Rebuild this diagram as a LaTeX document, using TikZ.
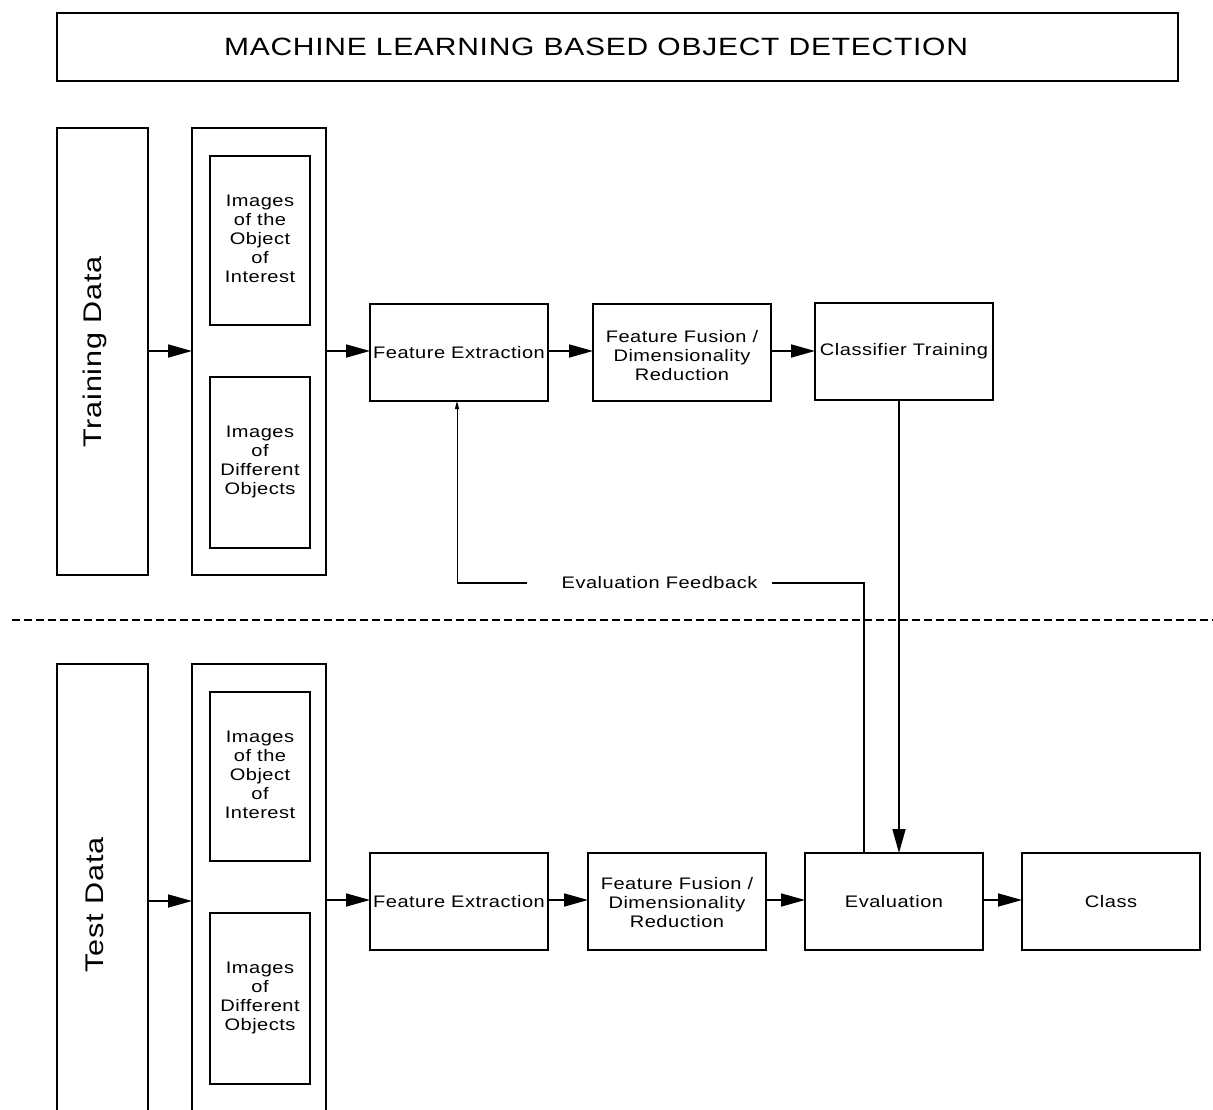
\documentclass[tikz,border=0pt]{standalone}
\usepackage{fontspec}
\setmainfont{Liberation Sans}[LetterSpace=3,FakeStretch=1.2]
\usetikzlibrary{arrows.meta}
\begin{document}
\begin{tikzpicture}[x=1pt,y=-1pt,
  box/.style={draw,line width=1.4pt,inner sep=0pt,outer sep=0pt,align=center,font=\fontsize{16.7}{19}\selectfont},
  procbox/.style={box,minimum width=178pt,minimum height=97pt},
  sidebox/.style={box,minimum width=91pt},
  imgbox/.style={box,minimum width=100pt},
  arr/.style={line width=1.7pt,-{Triangle[length=24pt,width=13pt]}},
  thin arr/.style={line width=1pt,-{Triangle[length=8pt,width=4pt]}},
  fb/.style={line width=1.7pt}]
\useasboundingbox (0,0) rectangle (1213,1109);
% title
\node[box,minimum width=1121pt,minimum height=68pt] (title) at (617.5,47) {};
\node[font=\fontsize{25}{28}\selectfont] (titletext) at (596,47) {MACHINE LEARNING BASED OBJECT DETECTION};
% ---------- training
\node[sidebox,minimum height=447pt] (train) at (102.5,351.5) {};
\node[rotate=90,font=\fontsize{25.5}{28}\selectfont] (trainlbl) at (95,352) {Training Data};
\node[box,minimum width=134pt,minimum height=447pt] (tgroup) at (259,351.5) {};
\node[imgbox,minimum height=169pt] (timg1) at (260,240.5) {};
\node[align=center,font=\fontsize{16.7}{19}\selectfont] (timg1t) at (260,238.5) {Images\\of the\\Object\\of\\Interest};
\node[imgbox,minimum height=171pt] (timg2) at (260,462.5) {};
\node[align=center,font=\fontsize{16.7}{19}\selectfont] (timg2t) at (260,461.5) {Images\\of\\Different\\Objects};
\node[procbox] (tfe) at (459,352.5) {Feature Extraction};
\node[procbox] (tff) at (682,352.5) {};
\node[align=center,font=\fontsize{16.7}{19}\selectfont] (tfft) at (682,355.5) {Feature Fusion /\\Dimensionality\\Reduction};
\node[procbox] (tct) at (904,351.5) {Classifier Training};
\draw[arr] (train.east |- 0,351) -- (tgroup.west |- 0,351);
\draw[arr] (tgroup.east |- 0,351) -- (tfe.west |- 0,351);
\draw[arr] (tfe.east |- 0,351) -- (tff.west |- 0,351);
\draw[arr] (tff.east |- 0,351) -- (tct.west |- 0,351);
% separator
\coordinate (sepL) at (12,620);
\coordinate (sepR) at (1213,620);
\draw[line width=1.6pt,dash pattern=on 8pt off 4pt] (sepL) -- (sepR);
% ---------- test
\node[sidebox,minimum height=460pt] (test) at (102.5,894) {};
\node[rotate=90,font=\fontsize{25.5}{28}\selectfont] (testlbl) at (95,905) {Test Data};
\node[box,minimum width=134pt,minimum height=460pt] (sgroup) at (259,894) {};
\node[imgbox,minimum height=169pt] (simg1) at (260,776.5) {};
\node[align=center,font=\fontsize{16.7}{19}\selectfont] (simg1t) at (260,774.5) {Images\\of the\\Object\\of\\Interest};
\node[imgbox,minimum height=171pt] (simg2) at (260,998.5) {};
\node[align=center,font=\fontsize{16.7}{19}\selectfont] (simg2t) at (260,997.5) {Images\\of\\Different\\Objects};
\node[procbox] (sfe) at (459,901.5) {Feature Extraction};
\node[procbox] (sff) at (677,901.5) {};
\node[align=center,font=\fontsize{16.7}{19}\selectfont] (sfft) at (677,903) {Feature Fusion /\\Dimensionality\\Reduction};
\node[procbox] (sev) at (894,901.5) {Evaluation};
\node[procbox] (scl) at (1111,901.5) {Class};
\draw[arr] (test.east |- 0,901) -- (sgroup.west |- 0,901);
\draw[arr] (sgroup.east |- 0,900) -- (sfe.west |- 0,900);
\draw[arr] (sfe.east |- 0,900) -- (sff.west |- 0,900);
\draw[arr] (sff.east |- 0,900) -- (sev.west |- 0,900);
\draw[arr] (sev.east |- 0,900) -- (scl.west |- 0,900);
% classifier to evaluation
\draw[arr] (tct.south -| 899,0) -- (sev.north -| 899,0);
% feedback
\node[font=\fontsize{16.7}{19}\selectfont] (fbl) at (659.5,583) {Evaluation Feedback};
\coordinate (fbR) at (864,583);
\coordinate (fbL) at (457,583);
\draw[fb] (sev.north -| fbR) -- (fbR) -- (772,583);
\draw[fb] (527,583) -- (fbL);
\draw[thin arr] (fbL) -- (tfe.south -| fbL);
\end{tikzpicture}
\end{document}
